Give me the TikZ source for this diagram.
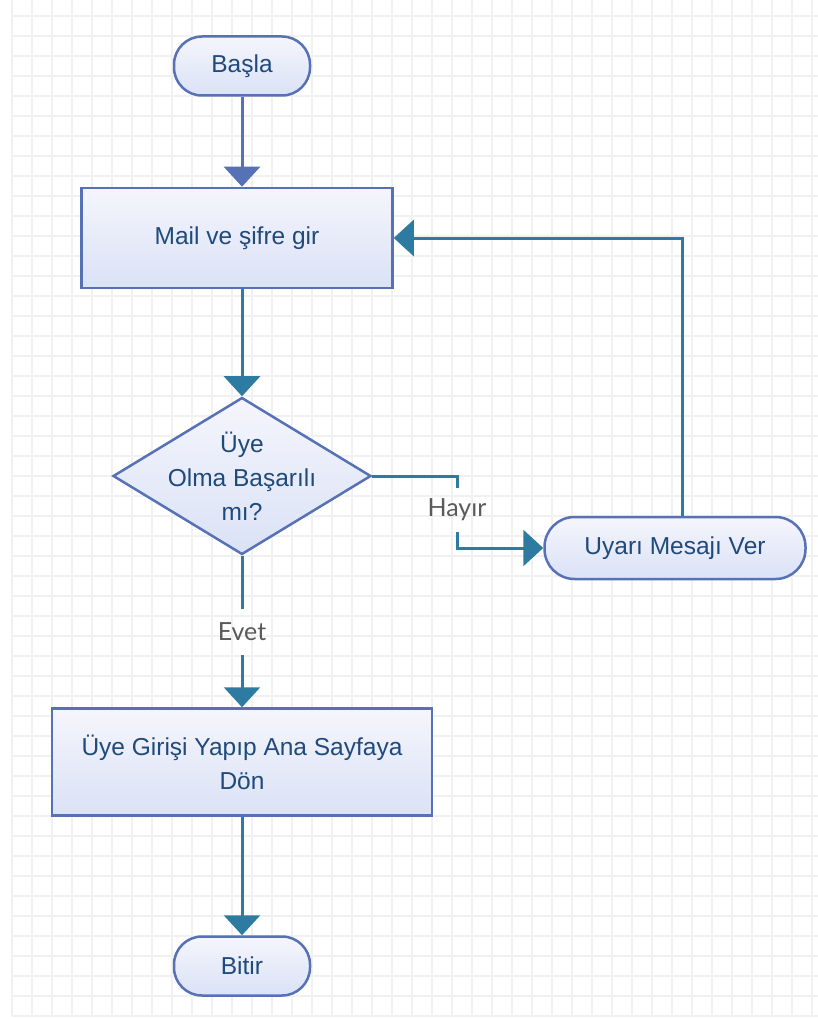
\documentclass[tikz,border=0pt]{standalone}
\usepackage{fontspec}
\setmainfont{Liberation Sans}
\newfontfamily\labelfont{Lato}
\usetikzlibrary{shapes.geometric, arrows.meta}

\definecolor{nodeline}{HTML}{5771B6}
\definecolor{nodetop}{HTML}{F5F5FC}
\definecolor{nodebottom}{HTML}{DAE2F6}
\definecolor{nodetext}{HTML}{1F4A7C}
\definecolor{arrowline}{HTML}{2E7BA1}
\definecolor{labeltext}{HTML}{5A5A5A}
\definecolor{gridline}{HTML}{F1F1F1}

\tikzstyle{startstop} = [rectangle, rounded corners=28pt, minimum width=136pt, minimum height=59pt, text centered, draw=nodeline, line width=2.5pt, top color=nodetop, bottom color=nodebottom, text=nodetext, font=\fontsize{24.5}{34}\selectfont, align=center]
\tikzstyle{process} = [rectangle, minimum width=311pt, minimum height=100pt, text centered, draw=nodeline, line width=2.5pt, top color=nodetop, bottom color=nodebottom, text=nodetext, font=\fontsize{24.5}{34}\selectfont, align=center]
\tikzstyle{decision} = [diamond, minimum width=258pt, minimum height=157pt, inner sep=0pt, draw=nodeline, line width=2.5pt, top color=nodetop, bottom color=nodebottom]
\tikzstyle{decisiontext} = [text centered, text=nodetext, font=\fontsize{24.5}{34}\selectfont, align=center]
\tikzstyle{answer} = [text=labeltext, font=\labelfont\fontsize{25}{30}\selectfont, minimum height=46pt, inner sep=4pt]
\tikzstyle{arrow} = [line width=3pt, draw=arrowline, -{Triangle[width=36pt,length=20pt]}]

\begin{document}
\begin{tikzpicture}[x=1pt, y=1pt, node distance=170pt]

\useasboundingbox (0,0) rectangle (818,-1019);
\draw [gridline, line width=1.2pt, step=20pt, xshift=12pt, yshift=4pt] (0,-1020) grid (806,-4);

\node (start) [startstop] at (242,-66) {Başla};
\node (input) [process, below of=start, xshift=-5pt, yshift=-2pt] {Mail ve şifre gir};
\node (check) [decision, below of=input, xshift=5pt, yshift=-68pt] {};
\node (checktext) [decisiontext] at (check) {Üye\\Olma Başarılı\\mı?};
\node (no) [answer, right of=check, xshift=45pt, yshift=-34pt, minimum height=44pt] {Hayır};
\node (alert) [startstop, right of=check, xshift=263pt, yshift=-72pt, minimum width=261pt, minimum height=62pt, rounded corners=30pt] {Uyarı Mesajı Ver};
\node (yes) [answer, below of=check, yshift=14pt] {Evet};
\node (login) [process, below of=yes, yshift=40pt, minimum width=380pt, minimum height=107pt] {Üye Girişi Yapıp Ana Sayfaya\\Dön};
\node (stop) [startstop, below of=login, yshift=-34pt] {Bitir};

\draw [arrow, draw=nodeline] (start) -- (start |- input.north);
\draw [arrow] (input.south -| check) -- (check);
\draw [line width=3pt, arrowline] (check) -| (no);
\draw [arrow] (no) |- (alert);
\draw [arrow] ([xshift=7pt]alert.north) |- (input.east);
\draw [line width=3pt, arrowline] (check) -- (yes);
\draw [arrow] (yes) -- (login);
\draw [arrow] (login) -- (stop);

\end{tikzpicture}
\end{document}
